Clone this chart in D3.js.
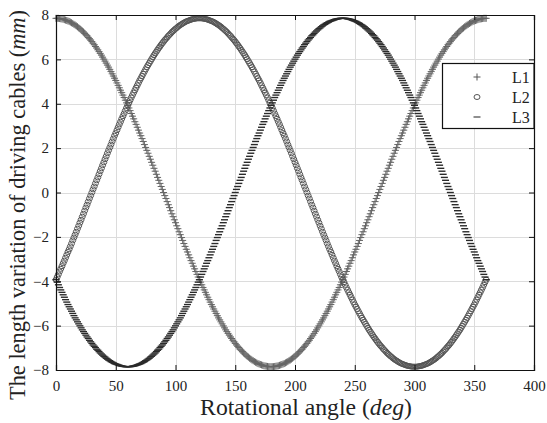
<!DOCTYPE html>
<html>
<head>
<meta charset="utf-8">
<script src="https://cdn.jsdelivr.net/npm/d3@7"></script>
<style>
  html, body { margin: 0; padding: 0; background: #fff; }
  svg { display: block; }
  svg text { font-family: "Liberation Serif", "DejaVu Serif", serif; }
</style>
</head>
<body>
<svg id="chart" width="547" height="423"></svg>
<script>
// Cable length variation (mm) sampled every 1 degree of rotation, 0..360 deg
const angles = d3.range(0, 361, 1);

const L1 = [
  7.85,7.85,7.85,7.84,7.83,7.82,7.81,7.79,7.77,7.75,
  7.73,7.71,7.68,7.65,7.62,7.58,7.55,7.51,7.47,7.42,
  7.38,7.33,7.28,7.23,7.17,7.11,7.06,6.99,6.93,6.87,
  6.80,6.73,6.66,6.58,6.51,6.43,6.35,6.27,6.19,6.10,
  6.01,5.92,5.83,5.74,5.65,5.55,5.45,5.35,5.25,5.15,
  5.05,4.94,4.83,4.72,4.61,4.50,4.39,4.28,4.16,4.04,
  3.93,3.81,3.69,3.56,3.44,3.32,3.19,3.07,2.94,2.81,
  2.68,2.56,2.43,2.30,2.16,2.03,1.90,1.77,1.63,1.50,
  1.36,1.23,1.09,0.96,0.82,0.68,0.55,0.41,0.27,0.14,
  0,
  -0.14,-0.27,-0.41,-0.55,-0.68,-0.82,-0.96,-1.09,-1.23,-1.36,
  -1.50,-1.63,-1.77,-1.90,-2.03,-2.16,-2.30,-2.43,-2.56,-2.68,
  -2.81,-2.94,-3.07,-3.19,-3.32,-3.44,-3.56,-3.69,-3.81,-3.93,
  -4.04,-4.16,-4.28,-4.39,-4.50,-4.61,-4.72,-4.83,-4.94,-5.05,
  -5.15,-5.25,-5.35,-5.45,-5.55,-5.65,-5.74,-5.83,-5.92,-6.01,
  -6.10,-6.19,-6.27,-6.35,-6.43,-6.51,-6.58,-6.66,-6.73,-6.80,
  -6.87,-6.93,-6.99,-7.06,-7.11,-7.17,-7.23,-7.28,-7.33,-7.38,
  -7.42,-7.47,-7.51,-7.55,-7.58,-7.62,-7.65,-7.68,-7.71,-7.73,
  -7.75,-7.77,-7.79,-7.81,-7.82,-7.83,-7.84,-7.85,-7.85,-7.85,
  -7.85,-7.85,-7.84,-7.83,-7.82,-7.81,-7.79,-7.77,-7.75,-7.73,
  -7.71,-7.68,-7.65,-7.62,-7.58,-7.55,-7.51,-7.47,-7.42,-7.38,
  -7.33,-7.28,-7.23,-7.17,-7.11,-7.06,-6.99,-6.93,-6.87,-6.80,
  -6.73,-6.66,-6.58,-6.51,-6.43,-6.35,-6.27,-6.19,-6.10,-6.01,
  -5.92,-5.83,-5.74,-5.65,-5.55,-5.45,-5.35,-5.25,-5.15,-5.05,
  -4.94,-4.83,-4.72,-4.61,-4.50,-4.39,-4.28,-4.16,-4.04,-3.93,
  -3.81,-3.69,-3.56,-3.44,-3.32,-3.19,-3.07,-2.94,-2.81,-2.68,
  -2.56,-2.43,-2.30,-2.16,-2.03,-1.90,-1.77,-1.63,-1.50,-1.36,
  -1.23,-1.09,-0.96,-0.82,-0.68,-0.55,-0.41,-0.27,-0.14,0,
  0.14,0.27,0.41,0.55,0.68,0.82,0.96,1.09,1.23,1.36,
  1.50,1.63,1.77,1.90,2.03,2.16,2.30,2.43,2.56,2.68,
  2.81,2.94,3.07,3.19,3.32,3.44,3.56,3.69,3.81,3.93,
  4.04,4.16,4.28,4.39,4.50,4.61,4.72,4.83,4.94,5.05,
  5.15,5.25,5.35,5.45,5.55,5.65,5.74,5.83,5.92,6.01,
  6.10,6.19,6.27,6.35,6.43,6.51,6.58,6.66,6.73,6.80,
  6.87,6.93,6.99,7.06,7.11,7.17,7.23,7.28,7.33,7.38,
  7.42,7.47,7.51,7.55,7.58,7.62,7.65,7.68,7.71,7.73,
  7.75,7.77,7.79,7.81,7.82,7.83,7.84,7.85,7.85,7.85
];

const L2 = [
  -3.93,-3.81,-3.69,-3.56,-3.44,-3.32,-3.19,-3.07,-2.94,-2.81,
  -2.68,-2.56,-2.43,-2.30,-2.16,-2.03,-1.90,-1.77,-1.63,-1.50,
  -1.36,-1.23,-1.09,-0.96,-0.82,-0.68,-0.55,-0.41,-0.27,-0.14,
  0,
  0.14,0.27,0.41,0.55,0.68,0.82,0.96,1.09,1.23,1.36,
  1.50,1.63,1.77,1.90,2.03,2.16,2.30,2.43,2.56,2.68,
  2.81,2.94,3.07,3.19,3.32,3.44,3.56,3.69,3.81,3.93,
  4.04,4.16,4.28,4.39,4.50,4.61,4.72,4.83,4.94,5.05,
  5.15,5.25,5.35,5.45,5.55,5.65,5.74,5.83,5.92,6.01,
  6.10,6.19,6.27,6.35,6.43,6.51,6.58,6.66,6.73,6.80,
  6.87,6.93,6.99,7.06,7.11,7.17,7.23,7.28,7.33,7.38,
  7.42,7.47,7.51,7.55,7.58,7.62,7.65,7.68,7.71,7.73,
  7.75,7.77,7.79,7.81,7.82,7.83,7.84,7.85,7.85,7.85,
  7.85,7.85,7.84,7.83,7.82,7.81,7.79,7.77,7.75,7.73,
  7.71,7.68,7.65,7.62,7.58,7.55,7.51,7.47,7.42,7.38,
  7.33,7.28,7.23,7.17,7.11,7.06,6.99,6.93,6.87,6.80,
  6.73,6.66,6.58,6.51,6.43,6.35,6.27,6.19,6.10,6.01,
  5.92,5.83,5.74,5.65,5.55,5.45,5.35,5.25,5.15,5.05,
  4.94,4.83,4.72,4.61,4.50,4.39,4.28,4.16,4.04,3.93,
  3.81,3.69,3.56,3.44,3.32,3.19,3.07,2.94,2.81,2.68,
  2.56,2.43,2.30,2.16,2.03,1.90,1.77,1.63,1.50,1.36,
  1.23,1.09,0.96,0.82,0.68,0.55,0.41,0.27,0.14,0,
  -0.14,-0.27,-0.41,-0.55,-0.68,-0.82,-0.96,-1.09,-1.23,-1.36,
  -1.50,-1.63,-1.77,-1.90,-2.03,-2.16,-2.30,-2.43,-2.56,-2.68,
  -2.81,-2.94,-3.07,-3.19,-3.32,-3.44,-3.56,-3.69,-3.81,-3.93,
  -4.04,-4.16,-4.28,-4.39,-4.50,-4.61,-4.72,-4.83,-4.94,-5.05,
  -5.15,-5.25,-5.35,-5.45,-5.55,-5.65,-5.74,-5.83,-5.92,-6.01,
  -6.10,-6.19,-6.27,-6.35,-6.43,-6.51,-6.58,-6.66,-6.73,-6.80,
  -6.87,-6.93,-6.99,-7.06,-7.11,-7.17,-7.23,-7.28,-7.33,-7.38,
  -7.42,-7.47,-7.51,-7.55,-7.58,-7.62,-7.65,-7.68,-7.71,-7.73,
  -7.75,-7.77,-7.79,-7.81,-7.82,-7.83,-7.84,-7.85,-7.85,-7.85,
  -7.85,-7.85,-7.84,-7.83,-7.82,-7.81,-7.79,-7.77,-7.75,-7.73,
  -7.71,-7.68,-7.65,-7.62,-7.58,-7.55,-7.51,-7.47,-7.42,-7.38,
  -7.33,-7.28,-7.23,-7.17,-7.11,-7.06,-6.99,-6.93,-6.87,-6.80,
  -6.73,-6.66,-6.58,-6.51,-6.43,-6.35,-6.27,-6.19,-6.10,-6.01,
  -5.92,-5.83,-5.74,-5.65,-5.55,-5.45,-5.35,-5.25,-5.15,-5.05,
  -4.94,-4.83,-4.72,-4.61,-4.50,-4.39,-4.28,-4.16,-4.04,-3.93
];

const L3 = [
  -3.93,-4.04,-4.16,-4.28,-4.39,-4.50,-4.61,-4.72,-4.83,-4.94,
  -5.05,-5.15,-5.25,-5.35,-5.45,-5.55,-5.65,-5.74,-5.83,-5.92,
  -6.01,-6.10,-6.19,-6.27,-6.35,-6.43,-6.51,-6.58,-6.66,-6.73,
  -6.80,-6.87,-6.93,-6.99,-7.06,-7.11,-7.17,-7.23,-7.28,-7.33,
  -7.38,-7.42,-7.47,-7.51,-7.55,-7.58,-7.62,-7.65,-7.68,-7.71,
  -7.73,-7.75,-7.77,-7.79,-7.81,-7.82,-7.83,-7.84,-7.85,-7.85,
  -7.85,
  -7.85,-7.85,-7.84,-7.83,-7.82,-7.81,-7.79,-7.77,-7.75,-7.73,
  -7.71,-7.68,-7.65,-7.62,-7.58,-7.55,-7.51,-7.47,-7.42,-7.38,
  -7.33,-7.28,-7.23,-7.17,-7.11,-7.06,-6.99,-6.93,-6.87,-6.80,
  -6.73,-6.66,-6.58,-6.51,-6.43,-6.35,-6.27,-6.19,-6.10,-6.01,
  -5.92,-5.83,-5.74,-5.65,-5.55,-5.45,-5.35,-5.25,-5.15,-5.05,
  -4.94,-4.83,-4.72,-4.61,-4.50,-4.39,-4.28,-4.16,-4.04,-3.93,
  -3.81,-3.69,-3.56,-3.44,-3.32,-3.19,-3.07,-2.94,-2.81,-2.68,
  -2.56,-2.43,-2.30,-2.16,-2.03,-1.90,-1.77,-1.63,-1.50,-1.36,
  -1.23,-1.09,-0.96,-0.82,-0.68,-0.55,-0.41,-0.27,-0.14,0,
  0.14,0.27,0.41,0.55,0.68,0.82,0.96,1.09,1.23,1.36,
  1.50,1.63,1.77,1.90,2.03,2.16,2.30,2.43,2.56,2.68,
  2.81,2.94,3.07,3.19,3.32,3.44,3.56,3.69,3.81,3.93,
  4.04,4.16,4.28,4.39,4.50,4.61,4.72,4.83,4.94,5.05,
  5.15,5.25,5.35,5.45,5.55,5.65,5.74,5.83,5.92,6.01,
  6.10,6.19,6.27,6.35,6.43,6.51,6.58,6.66,6.73,6.80,
  6.87,6.93,6.99,7.06,7.11,7.17,7.23,7.28,7.33,7.38,
  7.42,7.47,7.51,7.55,7.58,7.62,7.65,7.68,7.71,7.73,
  7.75,7.77,7.79,7.81,7.82,7.83,7.84,7.85,7.85,7.85,
  7.85,7.85,7.84,7.83,7.82,7.81,7.79,7.77,7.75,7.73,
  7.71,7.68,7.65,7.62,7.58,7.55,7.51,7.47,7.42,7.38,
  7.33,7.28,7.23,7.17,7.11,7.06,6.99,6.93,6.87,6.80,
  6.73,6.66,6.58,6.51,6.43,6.35,6.27,6.19,6.10,6.01,
  5.92,5.83,5.74,5.65,5.55,5.45,5.35,5.25,5.15,5.05,
  4.94,4.83,4.72,4.61,4.50,4.39,4.28,4.16,4.04,3.93,
  3.81,3.69,3.56,3.44,3.32,3.19,3.07,2.94,2.81,2.68,
  2.56,2.43,2.30,2.16,2.03,1.90,1.77,1.63,1.50,1.36,
  1.23,1.09,0.96,0.82,0.68,0.55,0.41,0.27,0.14,0,
  -0.14,-0.27,-0.41,-0.55,-0.68,-0.82,-0.96,-1.09,-1.23,-1.36,
  -1.50,-1.63,-1.77,-1.90,-2.03,-2.16,-2.30,-2.43,-2.56,-2.68,
  -2.81,-2.94,-3.07,-3.19,-3.32,-3.44,-3.56,-3.69,-3.81,-3.93
];

const seriesNames = ["L1", "L2", "L3"];
const xTicks = [0, 50, 100, 150, 200, 250, 300, 350, 400];
const yTicks = [-8, -6, -4, -2, 0, 2, 4, 6, 8];

const serif = "Liberation Serif";
const svg = d3.select("#chart");
const plotL = 56, plotR = 534, plotT = 15, plotB = 370;

const x = d3.scaleLinear().domain([0, 400]).range([plotL, plotR]);
const y = d3.scaleLinear().domain([-8, 8]).range([plotB, plotT]);

// grid
const grid = svg.append("g").attr("stroke", "#dcdcdc").attr("stroke-width", 1);
grid.selectAll("line.gx").data(xTicks.slice(1, -1)).join("line")
  .attr("x1", d => Math.round(x(d)) + 0.5).attr("x2", d => Math.round(x(d)) + 0.5)
  .attr("y1", plotT).attr("y2", plotB);
grid.selectAll("line.gy").data(yTicks.slice(1, -1)).join("line")
  .attr("y1", d => Math.round(y(d)) + 0.5).attr("y2", d => Math.round(y(d)) + 0.5)
  .attr("x1", plotL).attr("x2", plotR);

// markers
const marks = svg.append("g");
const pts = s => angles.map((a, i) => [a, s[i]]);

marks.append("g").attr("stroke", "#666").attr("stroke-width", 1).attr("fill", "none")
  .selectAll("path").data(pts(L1)).join("path")
  .attr("d", d => `M${x(d[0]) - 3.5},${y(d[1])}h7M${x(d[0])},${y(d[1]) - 3.5}v7`);

marks.append("g").attr("stroke", "#555").attr("stroke-width", 1).attr("fill", "none")
  .selectAll("ellipse").data(pts(L2)).join("ellipse")
  .attr("cx", d => x(d[0])).attr("cy", d => y(d[1])).attr("rx", 3).attr("ry", 2.5);

marks.append("g").attr("stroke", "#2a2a2a").attr("stroke-width", 1.4)
  .selectAll("line").data(pts(L3)).join("line")
  .attr("x1", d => x(d[0]) - 3.5).attr("x2", d => x(d[0]) + 3.5)
  .attr("y1", d => y(d[1])).attr("y2", d => y(d[1]));

// axes with inward ticks on all four sides
const fmt = d3.format("d");
const ax = svg.append("g");
ax.append("g").attr("transform", `translate(0,${plotB})`)
  .call(d3.axisBottom(x).tickValues(xTicks).tickFormat(fmt).tickSize(-5).tickPadding(10));
ax.append("g").attr("transform", `translate(${plotL},0)`)
  .call(d3.axisLeft(y).tickValues(yTicks).tickFormat(fmt).tickSize(-5).tickPadding(7));
ax.append("g").attr("transform", `translate(0,${plotT})`)
  .call(d3.axisTop(x).tickValues(xTicks).tickFormat("").tickSize(-5));
ax.append("g").attr("transform", `translate(${plotR},0)`)
  .call(d3.axisRight(y).tickValues(yTicks).tickFormat("").tickSize(-5));
ax.selectAll("text").attr("font-family", serif).attr("font-size", 15).attr("fill", "#222");
ax.selectAll("path.domain").attr("stroke", "#111").attr("stroke-width", 1.2);
ax.selectAll(".tick line").attr("stroke", "#111");

// legend
const lg = svg.append("g");
lg.append("rect").attr("x", 442.5).attr("y", 63.5).attr("width", 91.5).attr("height", 65)
  .attr("fill", "#fff").attr("stroke", "#111").attr("stroke-width", 1.2);
const rowY = [77, 97, 117];
seriesNames.forEach((name, i) => {
  const cy = rowY[i], cx = 477;
  if (i === 0) lg.append("path").attr("d", `M${cx - 3.5},${cy}h7M${cx},${cy - 3.5}v7`).attr("stroke", "#555");
  if (i === 1) lg.append("ellipse").attr("cx", cx).attr("cy", cy).attr("rx", 3).attr("ry", 2.5).attr("fill", "none").attr("stroke", "#555");
  if (i === 2) lg.append("line").attr("x1", cx - 3.5).attr("x2", cx + 3.5).attr("y1", cy).attr("y2", cy).attr("stroke", "#444").attr("stroke-width", 1.2);
  lg.append("text").attr("x", 512).attr("y", cy + 5.5).attr("font-family", serif)
    .attr("font-size", 16).attr("fill", "#222").text(name);
});

// axis titles, sized to their span
function fit(sel, width) {
  const w = sel.node().getComputedTextLength();
  const fs = parseFloat(sel.attr("font-size"));
  sel.attr("font-size", fs * width / w);
}
const xt = svg.append("text").attr("x", 306).attr("y", 415).attr("text-anchor", "middle")
  .attr("font-family", serif).attr("font-size", 19).attr("fill", "#222");
xt.append("tspan").text("Rotational angle (");
xt.append("tspan").attr("font-style", "italic").text("deg");
xt.append("tspan").text(")");
fit(xt, 212);

const yt = svg.append("text").attr("transform", "translate(25,205) rotate(-90)")
  .attr("text-anchor", "middle").attr("font-family", serif).attr("font-size", 19).attr("fill", "#222");
yt.append("tspan").text("The length variation of driving cables (");
yt.append("tspan").attr("font-style", "italic").text("mm");
yt.append("tspan").text(")");
fit(yt, 390);
</script>
</body>
</html>
